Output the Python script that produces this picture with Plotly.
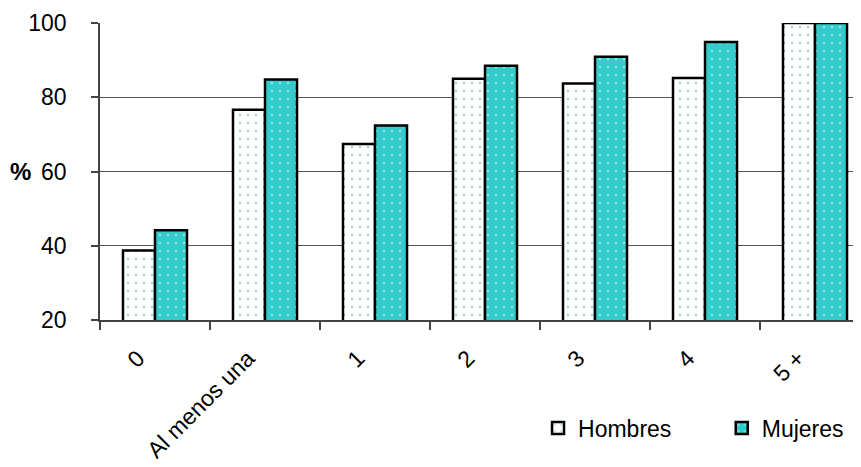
import plotly.graph_objects as go

categories = ["0", "Al menos una", "1", "2", "3", "4", "5 +"]
hombres = [38.7, 76.6, 67.4, 85.0, 83.7, 85.2, 100.0]
mujeres = [44.2, 84.8, 72.4, 88.5, 90.9, 94.9, 100.0]
y_ticks = [20, 40, 60, 80, 100]

FONT = "Arial, Liberation Sans, sans-serif"

fig = go.Figure()
fig.add_trace(go.Bar(
    name="Hombres", x=categories, y=hombres, legend="legend",
    marker=dict(color="white", line=dict(color="black", width=2.5),
                pattern=dict(shape=".", fgcolor="#3fae7e", bgcolor="white",
                             size=8, solidity=0.08, fillmode="overlay")),
))
fig.add_trace(go.Bar(
    name="Mujeres", x=categories, y=mujeres, legend="legend2",
    marker=dict(color="#33cccc", line=dict(color="black", width=2.5),
                pattern=dict(shape=".", fgcolor="white", bgcolor="#33cccc",
                             size=8, solidity=0.08, fillmode="overlay")),
))

leg_common = dict(orientation="h", yanchor="middle", xanchor="left",
                  font=dict(size=23), bgcolor="rgba(0,0,0,0)", borderwidth=0)

# page body has an 8px default margin; figure is sized/offset to compensate
fig.update_layout(
    width=853, height=459,
    margin=dict(l=92, r=0, t=15, b=147, autoexpand=False),
    paper_bgcolor="white", plot_bgcolor="white",
    barmode="group", bargap=0.418, bargroupgap=0,
    font=dict(family=FONT, size=23, color="black"),
    showlegend=True,
    legend=dict(x=0.5756, y=-0.364, **leg_common),
    legend2=dict(x=0.817, y=-0.364, **leg_common),
    xaxis=dict(range=[-0.5, 6.418], tickangle=-45, tickson="boundaries",
               ticks="outside", ticklen=8, tickcolor="#444", tickwidth=1.5,
               showline=True, linecolor="#444", linewidth=1.5, automargin=False,
               showgrid=False, ticklabelshift=-17, ticklabelstandoff=14,
               tickfont=dict(size=23)),
    yaxis=dict(range=[20, 100], tickvals=y_ticks, ticks="outside", ticklen=7,
               tickcolor="#444", tickwidth=1.5, showline=True, linecolor="#444",
               linewidth=1.5, showgrid=True, gridcolor="#555", gridwidth=1,
               zeroline=False, automargin=False, ticklabelstandoff=20,
               tickfont=dict(size=23)),
    annotations=[dict(text="<b>%</b>", xref="paper", yref="paper", x=-0.1045, y=0.5,
                      xanchor="center", yanchor="middle", showarrow=False,
                      font=dict(size=24))],
)

fig.write_html("out.html")
